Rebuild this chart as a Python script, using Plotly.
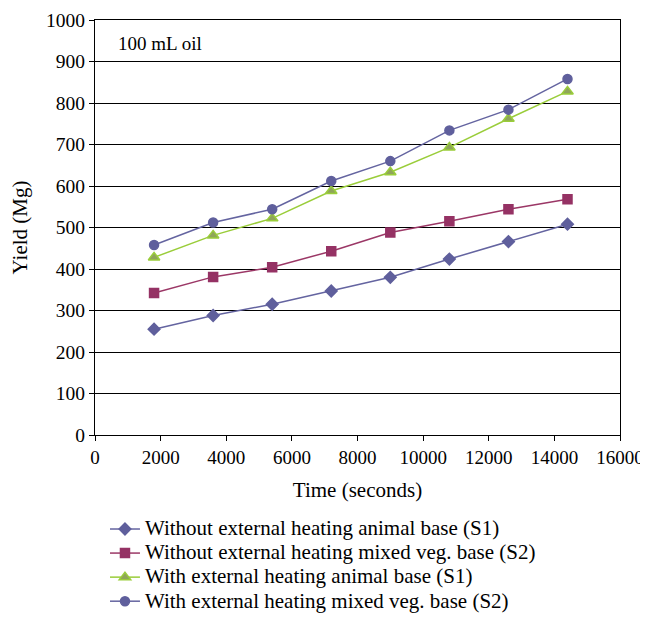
import plotly.graph_objects as go

time_s = [1800, 3600, 5400, 7200, 9000, 10800, 12600, 14400]
wo_animal_s1 = [255, 288, 315, 347, 380, 424, 466, 508]
wo_mixed_s2 = [342, 381, 404, 443, 488, 515, 544, 568]
w_animal_s1 = [428, 481, 522, 588, 633, 693, 762, 828]
w_mixed_s2 = [458, 512, 544, 612, 660, 734, 784, 858]

names = [
    "Without external heating animal base (S1)",
    "Without external heating mixed veg. base (S2)",
    "With external heating animal base (S1)",
    "With external heating mixed veg. base (S2)",
]
series = [wo_animal_s1, wo_mixed_s2, w_animal_s1, w_mixed_s2]
line_colors = ["#6464A0", "#9B3766", "#9ACD3A", "#6464A0"]
marker_fill = ["#5F5F9C", "#953264", "#8FA55A", "#5F5F9C"]
marker_line = ["#5F5F9C", "#953264", "#9ACD3A", "#5F5F9C"]
symbols = ["diamond", "square", "triangle-up", "circle"]
sizes = [9, 9, 10, 9]

FONT = "Liberation Serif"

fig = go.Figure()
for i in range(4):
    fig.add_trace(go.Scatter(
        x=time_s, y=series[i], mode="lines+markers",
        name=f'<span style="font-size:21px">{names[i]}</span>',
        line=dict(color=line_colors[i], width=1.5),
        marker=dict(symbol=symbols[i], size=sizes[i], color=marker_fill[i],
                    line=dict(color=marker_line[i], width=1.5)),
    ))

fig.update_layout(
    width=648, height=606,
    margin=dict(l=87, r=36, t=12, b=179, autoexpand=False),
    paper_bgcolor="white", plot_bgcolor="white",
    font=dict(family=FONT, size=19, color="black"),
    showlegend=True,
    legend=dict(x=0.019, y=-0.1855, xanchor="left", yanchor="top",
                font=dict(family=FONT, size=16.2),
                bgcolor="rgba(0,0,0,0)"),
    xaxis=dict(range=[0, 16000], dtick=2000, tickformat="d", showgrid=False, zeroline=False,
               showline=True, linecolor="black", linewidth=1.2, mirror=True,
               ticks="outside", ticklen=5, tickcolor="black", automargin=False,
               title=dict(text="Time (seconds)", font=dict(size=21)),
               tickfont=dict(size=19)),
    yaxis=dict(range=[0, 1000], dtick=100, showgrid=True, gridcolor="black",
               gridwidth=1, zeroline=False, automargin=False,
               showline=True, linecolor="black", linewidth=1.2, mirror=True,
               ticks="outside", ticklen=5, tickcolor="black",
               title=dict(text="Yield (Mg)", font=dict(size=21)),
               tickfont=dict(size=19.5)),
    annotations=[dict(text="100 mL oil", x=0.04, y=0.943, xref="paper", yref="paper",
                      xanchor="left", yanchor="middle", showarrow=False,
                      font=dict(family=FONT, size=19))],
)

fig.write_html("out.html")
